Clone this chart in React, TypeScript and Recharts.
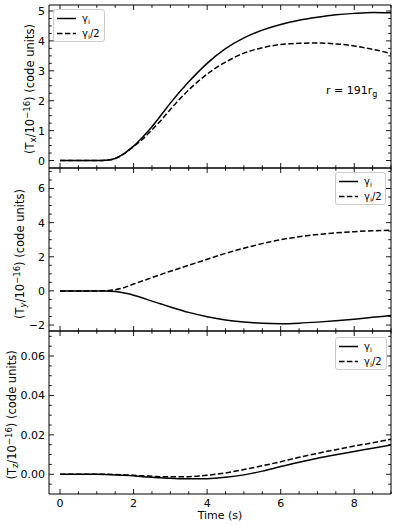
import React from 'react';
import { LineChart, Line, XAxis, YAxis, Legend } from 'recharts';

const FONT = '"DejaVu Sans", sans-serif';

// ---- data ----
const timeValues = [0, 0.5, 1, 1.25, 1.5, 1.75, 2, 2.25, 2.5, 2.75, 3, 3.5, 4, 4.5, 5, 5.5, 6, 6.5, 7, 7.5, 8, 8.5, 9];
const txGamma = [0, 0, 0, 0.01, 0.07, 0.24, 0.48, 0.79, 1.13, 1.52, 1.92, 2.63, 3.25, 3.74, 4.1, 4.36, 4.55, 4.69, 4.79, 4.87, 4.92, 4.95, 4.94];
const txHalf = [0, 0, 0, 0.01, 0.07, 0.23, 0.47, 0.72, 1.03, 1.35, 1.71, 2.36, 2.89, 3.29, 3.59, 3.77, 3.88, 3.92, 3.93, 3.9, 3.83, 3.72, 3.58];
const tyGamma = [0, 0, 0, -0.005, -0.04, -0.13, -0.25, -0.42, -0.6, -0.77, -0.94, -1.26, -1.51, -1.7, -1.82, -1.9, -1.92, -1.89, -1.83, -1.75, -1.66, -1.55, -1.44];
const tyHalf = [0, 0, 0, 0.01, 0.07, 0.2, 0.4, 0.59, 0.78, 0.97, 1.15, 1.5, 1.85, 2.2, 2.5, 2.77, 3.0, 3.17, 3.3, 3.4, 3.47, 3.52, 3.56];
const tzGamma = [0, 0, 0, -0.0001, -0.0003, -0.0005, -0.0008, -0.0012, -0.0015, -0.0018, -0.002, -0.0023, -0.0022, -0.0015, -0.0003, 0.0016, 0.0039, 0.0061, 0.0081, 0.0099, 0.0116, 0.0132, 0.0149];
const tzHalf = [0, 0, 0, 0, -0.0001, -0.0003, -0.0005, -0.0008, -0.001, -0.0012, -0.0013, -0.0012, -0.0005, 0.0007, 0.0024, 0.0043, 0.0064, 0.0086, 0.0106, 0.0125, 0.0143, 0.016, 0.0178];

// ---- ticks ----
const xTicks = [0, 0.5, 1, 1.5, 2, 2.5, 3, 3.5, 4, 4.5, 5, 5.5, 6, 6.5, 7, 7.5, 8, 8.5, 9];
const xTickLabels = ['0', '2', '4', '6', '8'];
const yTicksX = [0, 0.25, 0.5, 0.75, 1, 1.25, 1.5, 1.75, 2, 2.25, 2.5, 2.75, 3, 3.25, 3.5, 3.75, 4, 4.25, 4.5, 4.75, 5];
const yLabelsX = ['0', '1', '2', '3', '4', '5'];
const yTicksY = [-2, -1.5, -1, -0.5, 0, 0.5, 1, 1.5, 2, 2.5, 3, 3.5, 4, 4.5, 5, 5.5, 6, 6.5, 7];
const yLabelsY = ['\u22122', '0', '2', '4', '6'];
const yTicksZ = [-0.005, 0, 0.005, 0.01, 0.015, 0.02, 0.025, 0.03, 0.035, 0.04, 0.045, 0.05, 0.055, 0.06, 0.065, 0.07];
const yLabelsZ = ['0.00', '0.02', '0.04', '0.06'];

const seriesNames = ['γi', 'γi/2'];

const data1 = timeValues.map((t, i) => ({ t, g: txGamma[i], h: txHalf[i] }));
const data2 = timeValues.map((t, i) => ({ t, g: tyGamma[i], h: tyHalf[i] }));
const data3 = timeValues.map((t, i) => ({ t, g: tzGamma[i], h: tzHalf[i] }));

const isMajor = (v: number, step: number) => {
  const r = v / step;
  return Math.abs(r - Math.round(r)) < 1e-6;
};

function makeTick(side: 'left' | 'right' | 'top' | 'bottom', step: number, base: number, labels: string[] | null) {
  return (props: any) => {
    const { x, y, payload } = props;
    const v = payload.value as number;
    const major = isMajor(v, step);
    const len = major ? 5 : 2.8;
    let x2 = x;
    let y2 = y;
    if (side === 'left') x2 = x + len;
    if (side === 'right') x2 = x - len;
    if (side === 'bottom') y2 = y - len;
    if (side === 'top') y2 = y + len;
    let label: string | null = null;
    if (major && labels) {
      const idx = Math.round((v - base) / step);
      label = labels[idx] ?? null;
    }
    return (
      <g>
        <line x1={x} y1={y} x2={x2} y2={y2} stroke="#000" strokeWidth={0.9} />
        {label !== null && side === 'left' && (
          <text x={x - 4} y={y + 4} textAnchor="end" fontSize={11} fontFamily={FONT} fill="#000">
            {label}
          </text>
        )}
        {label !== null && side === 'bottom' && (
          <text x={x} y={y + 13} textAnchor="middle" fontSize={11} fontFamily={FONT} fill="#000">
            {label}
          </text>
        )}
      </g>
    );
  };
}

const LegendBox = ({ w }: { w: number }) => (
  <svg width={w} height={33} style={{ display: 'block', overflow: 'visible' }}>
    <rect x={0.5} y={0.5} width={w - 1} height={32} rx={2.5} fill="rgba(255,255,255,0.8)" stroke="#cccccc" />
    <line x1={4} y1={9.5} x2={23} y2={9.5} stroke="#000" strokeWidth={1.5} />
    <text x={29} y={13} fontSize={10} fontFamily={FONT} fill="#000">
      γ<tspan dy={2} fontSize={7}>i</tspan>
    </text>
    <line x1={4} y1={24.5} x2={23} y2={24.5} stroke="#000" strokeWidth={1.5} strokeDasharray="5.5 2.4" />
    <text x={29} y={28} fontSize={10} fontFamily={FONT} fill="#000">
      γ<tspan dy={2} fontSize={7}>i</tspan>
      <tspan dy={-2}>/2</tspan>
    </text>
  </svg>
);

const YLabel = ({ cx, cy, sub }: { cx: number; cy: number; sub: string }) => (
  <text transform={`translate(${cx},${cy}) rotate(-90)`} textAnchor="middle" fontSize={11.5} fontFamily={FONT} fill="#000">
    (T<tspan dy={2} fontSize={8.5} fontStyle={sub === 'y' ? 'italic' : 'normal'}>{sub}</tspan>
    <tspan dy={-2}>/10</tspan>
    <tspan dy={-4} fontSize={8.5}>−16</tspan>
    <tspan dy={4}>) (code units)</tspan>
  </text>
);

type PanelProps = {
  top: number;
  height: number;
  mTop: number;
  mBottom: number;
  data: any[];
  yDomain: [number, number];
  yTicks: number[];
  yStep: number;
  yBase: number;
  yLabels: string[];
  showX: boolean;
  legendLeft: number;
  legendTop: number;
  legendW: number;
  children?: React.ReactNode;
};

const AX = { stroke: '#000', strokeWidth: 1 };

const Panel = (p: PanelProps) => (
  <div style={{ position: 'absolute', left: 0, top: p.top }}>
    <LineChart
      width={399}
      height={p.height}
      data={p.data}
      margin={{ top: p.mTop - 1, right: 7, bottom: p.mBottom - 1, left: 48 }}
    >
      <XAxis
        xAxisId="b"
        dataKey="t"
        type="number"
        domain={[-0.3, 9]}
        allowDataOverflow
        ticks={xTicks}
        interval={0}
        height={1}
        tickSize={0}
        tickMargin={0}
        axisLine={AX}
        tickLine={false}
        tick={makeTick('bottom', 2, 0, p.showX ? xTickLabels : null)}
      />
      <XAxis
        xAxisId="t"
        orientation="top"
        dataKey="t"
        type="number"
        domain={[-0.3, 9]}
        allowDataOverflow
        ticks={xTicks}
        interval={0}
        height={1}
        tickSize={0}
        tickMargin={0}
        axisLine={AX}
        tickLine={false}
        tick={makeTick('top', 2, 0, null)}
      />
      <YAxis
        yAxisId="l"
        type="number"
        domain={p.yDomain}
        allowDataOverflow
        ticks={p.yTicks}
        interval={0}
        width={1}
        tickSize={0}
        tickMargin={0}
        axisLine={AX}
        tickLine={false}
        tick={makeTick('left', p.yStep, p.yBase, p.yLabels)}
      />
      <YAxis
        yAxisId="r"
        orientation="right"
        type="number"
        domain={p.yDomain}
        allowDataOverflow
        ticks={p.yTicks}
        interval={0}
        width={1}
        tickSize={0}
        tickMargin={0}
        axisLine={AX}
        tickLine={false}
        tick={makeTick('right', p.yStep, p.yBase, null)}
      />
      <Line
        xAxisId="b"
        yAxisId="l"
        type="monotone"
        dataKey="g"
        name={seriesNames[0]}
        stroke="#000"
        strokeWidth={1.5}
        dot={false}
        isAnimationActive={false}
      />
      <Line
        xAxisId="b"
        yAxisId="l"
        type="monotone"
        dataKey="h"
        name={seriesNames[1]}
        stroke="#000"
        strokeWidth={1.5}
        strokeDasharray="5.5 2.4"
        dot={false}
        isAnimationActive={false}
      />
      <Legend
        layout="vertical"
        align="center"
        verticalAlign="middle"
        content={() => <LegendBox w={p.legendW} />}
        wrapperStyle={{ position: 'absolute', left: p.legendLeft, top: p.legendTop, width: p.legendW, height: 33, margin: 0 }}
      />
      {p.children}
    </LineChart>
  </div>
);

export default function App() {
  return (
    <div style={{ position: 'absolute', left: 0, top: 0, width: 399, height: 526, background: '#fff' }}>
      <Panel
        top={0}
        height={171}
        mTop={5}
        mBottom={3}
        data={data1}
        yDomain={[-0.25, 5.2]}
        yTicks={yTicksX}
        yStep={1}
        yBase={0}
        yLabels={yLabelsX}
        showX={false}
        legendLeft={53}
        legendTop={9}
        legendW={52}
      >
        <YLabel cx={34} cy={89} sub="x" />
        <text x={326} y={94} fontSize={11} fontFamily={FONT} fill="#000">
          r = 191r<tspan dy={2.5} fontSize={8}>g</tspan>
        </text>
      </Panel>
      <Panel
        top={165}
        height={169}
        mTop={3}
        mBottom={3}
        data={data2}
        yDomain={[-2.35, 7.2]}
        yTicks={yTicksY}
        yStep={2}
        yBase={-2}
        yLabels={yLabelsY}
        showX={false}
        legendLeft={335}
        legendTop={7}
        legendW={51}
      >
        <YLabel cx={24} cy={89} sub="y" />
      </Panel>
      <Panel
        top={328}
        height={198}
        mTop={3}
        mBottom={32}
        data={data3}
        yDomain={[-0.01, 0.0727]}
        yTicks={yTicksZ}
        yStep={0.02}
        yBase={0}
        yLabels={yLabelsZ}
        showX={true}
        legendLeft={335}
        legendTop={9}
        legendW={52}
      >
        <YLabel cx={16} cy={87} sub="z" />
        <text x={220} y={191} textAnchor="middle" fontSize={11} fontFamily={FONT} fill="#000">
          Time (s)
        </text>
      </Panel>
    </div>
  );
}
